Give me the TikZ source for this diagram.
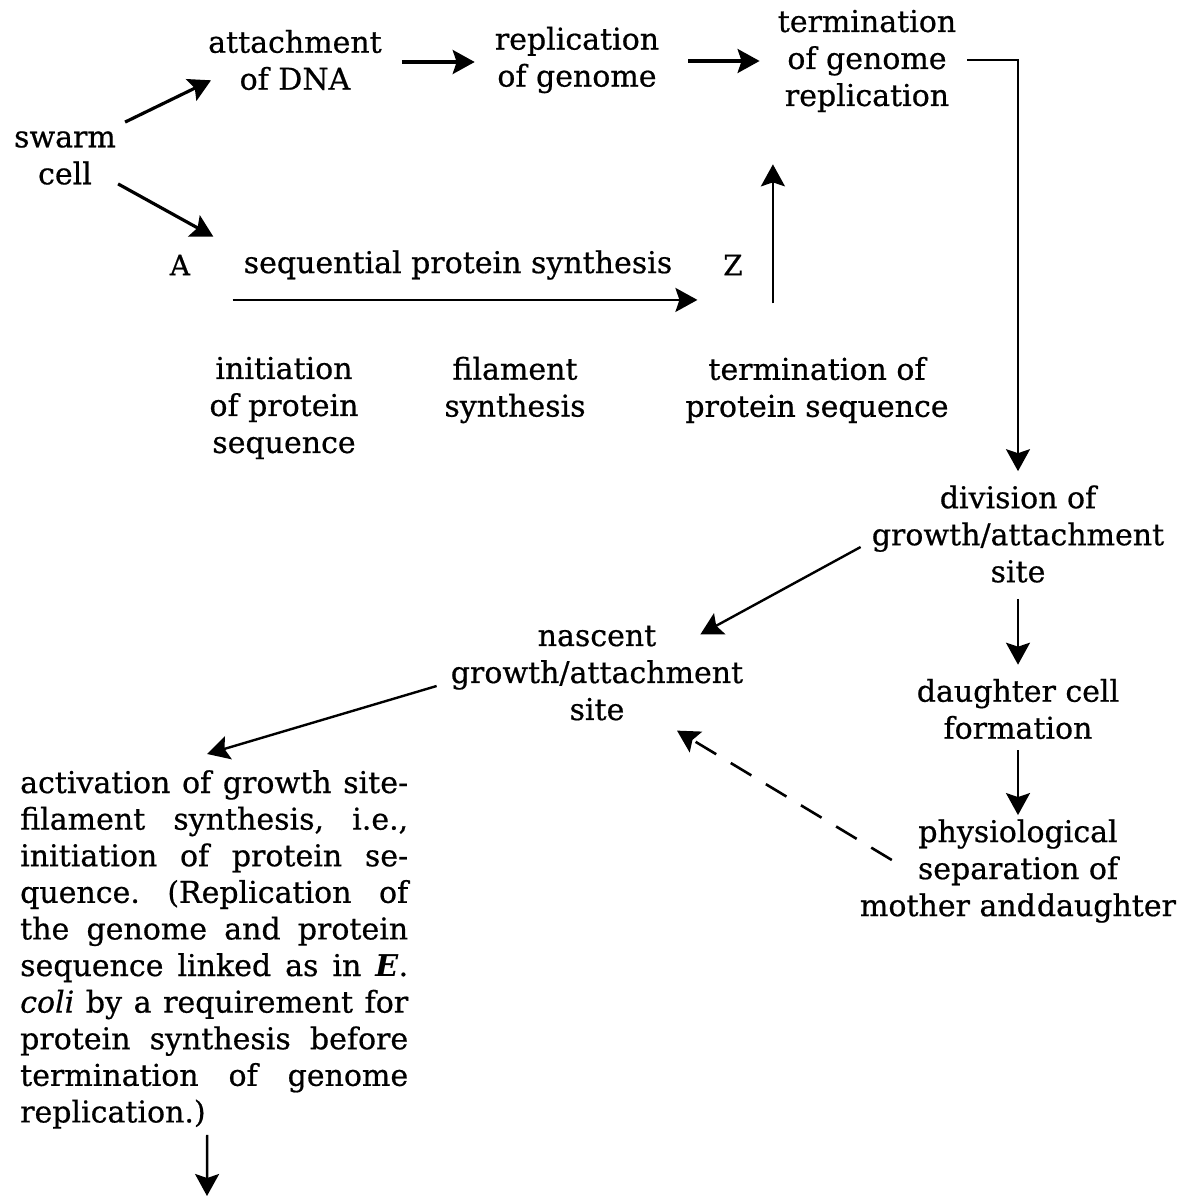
\documentclass[tikz,border=0pt]{standalone}
\usepackage{fontspec}
\setmainfont{DejaVu Serif}[UprightFeatures={FakeBold=0.6},ItalicFeatures={FakeBold=0.6}]
\usetikzlibrary{arrows.meta,calc}
\newcommand\jline[1]{\leavevmode\hbox to 388pt{#1}}
\begin{document}
\begin{tikzpicture}[x=1pt,y=-1pt,
  lbl/.style={align=center, inner sep=0pt, font=\fontsize{30}{37}\selectfont},
  letter/.style={inner sep=0pt, font=\fontsize{28}{30}\selectfont},
  tip/.style={-{Stealth[length=22pt,width=24pt,inset=4pt]}},
  arr/.style={tip, line width=2.4pt},
  tarr/.style={tip, line width=3.2pt},
  dasharr/.style={tip, line width=2.6pt, dash pattern=on 24pt off 17pt}]
\useasboundingbox[fill=white] (0,0) rectangle (1180,1199);

% nodes
\node[lbl] (sw)   at (65,158)  {swarm\\cell};
\node[lbl] (att)  at (295,60)  {attachment\\of DNA};
\node[lbl] (rep)  at (577,60)  {replication\\of genome};
\node[lbl] (term) at (867,61)  {termination\\of genome\\replication};
\node[letter] (A) at (180,265) {A};
\node[lbl] (seq)  at (458,265) {sequential protein synthesis};
\node[letter] (Z) at (733,265) {Z};
\node[lbl] (ini)  at (284,408) {initiation\\of protein\\sequence};
\node[lbl] (fil)  at (515,390) {filament\\synthesis};
\node[lbl] (tps)  at (817,390) {termination of\\protein sequence};
\node[lbl] (div)  at (1018,534) {division of\\growth/attachment\\site};
\node[lbl] (nas)  at (597,673) {nascent\\growth/attachment\\site};
\node[lbl] (dau)  at (1018,709) {daughter cell\\formation};
\node[lbl] (phy)  at (1018,871) {physiological\\separation of\\mother and\hspace{1pt}daughter};
\node[anchor=north west, inner sep=0pt, text width=388pt, align=left,
      font=\fontsize{30}{36.6}\selectfont] (act) at (20,770) {%
\jline{activation\hfill of\hfill growth\hfill site-}\\
\jline{filament\hfill synthesis,\hfill i.e.,}\\
\jline{initiation\hfill of\hfill protein\hfill se-}\\
\jline{quence.\hfill (Replication\hfill of}\\
\jline{the\hfill genome\hfill and\hfill protein}\\
\jline{sequence\hfill linked\hfill as\hfill in\hfill \textbf{\textit{E}}.}\\
\jline{\textit{coli}\hfill by\hfill a\hfill requirement\hfill for}\\
\jline{protein\hfill synthesis\hfill before}\\
\jline{termination\hfill of\hfill genome}\\
replication.)};
\coordinate (zb) at ([shift={(30,28)}]Z.south east);
\coordinate (out) at (207,1196);

% connectors
\draw[tarr] ([shift={(9,-9)}]sw.north east) -- ([shift={(3,-10)}]att.south west);
\draw[tarr] ([shift={(2,-1)}]sw.south east) -- ([shift={(23,-18)}]A.north east);
\draw[tarr] ([shift={(20,2)}]att.east) -- ([shift={(-20,2)}]rep.west);
\draw[tarr] ([shift={(29,1)}]rep.east) -- ([shift={(-18,1)}]rep.east -| term.west);
\draw[arr] ([shift={(11,-1)}]term.east) -| ([shift={(0,-14)}]div.north);
\draw[arr] ([shift={(-11,20)}]seq.south west) -- ([shift={(25,20)}]seq.south east);
\draw[arr] (zb) -- ($(zb |- term.south)+(0,52)$);
\draw[arr] ([shift={(-11,13)}]div.west) -- ([shift={(-43,9)}]nas.north east);
\draw[arr] ([shift={(0,16)}]div.south) -- ([shift={(0,-14)}]dau.north);
\draw[arr] ([shift={(0,11)}]dau.south) -- ([shift={(0,-4)}]phy.north);
\draw[dasharr] ([shift={(32,-11)}]phy.west) -- ([shift={(80,10)}]nas.south);
\draw[arr] ([shift={(-14,13)}]nas.west) -- ([shift={(-7,-16)}]act.north);
\draw[arr] ([shift={(-7,6)}]act.south) -- (out);
\end{tikzpicture}
\end{document}
